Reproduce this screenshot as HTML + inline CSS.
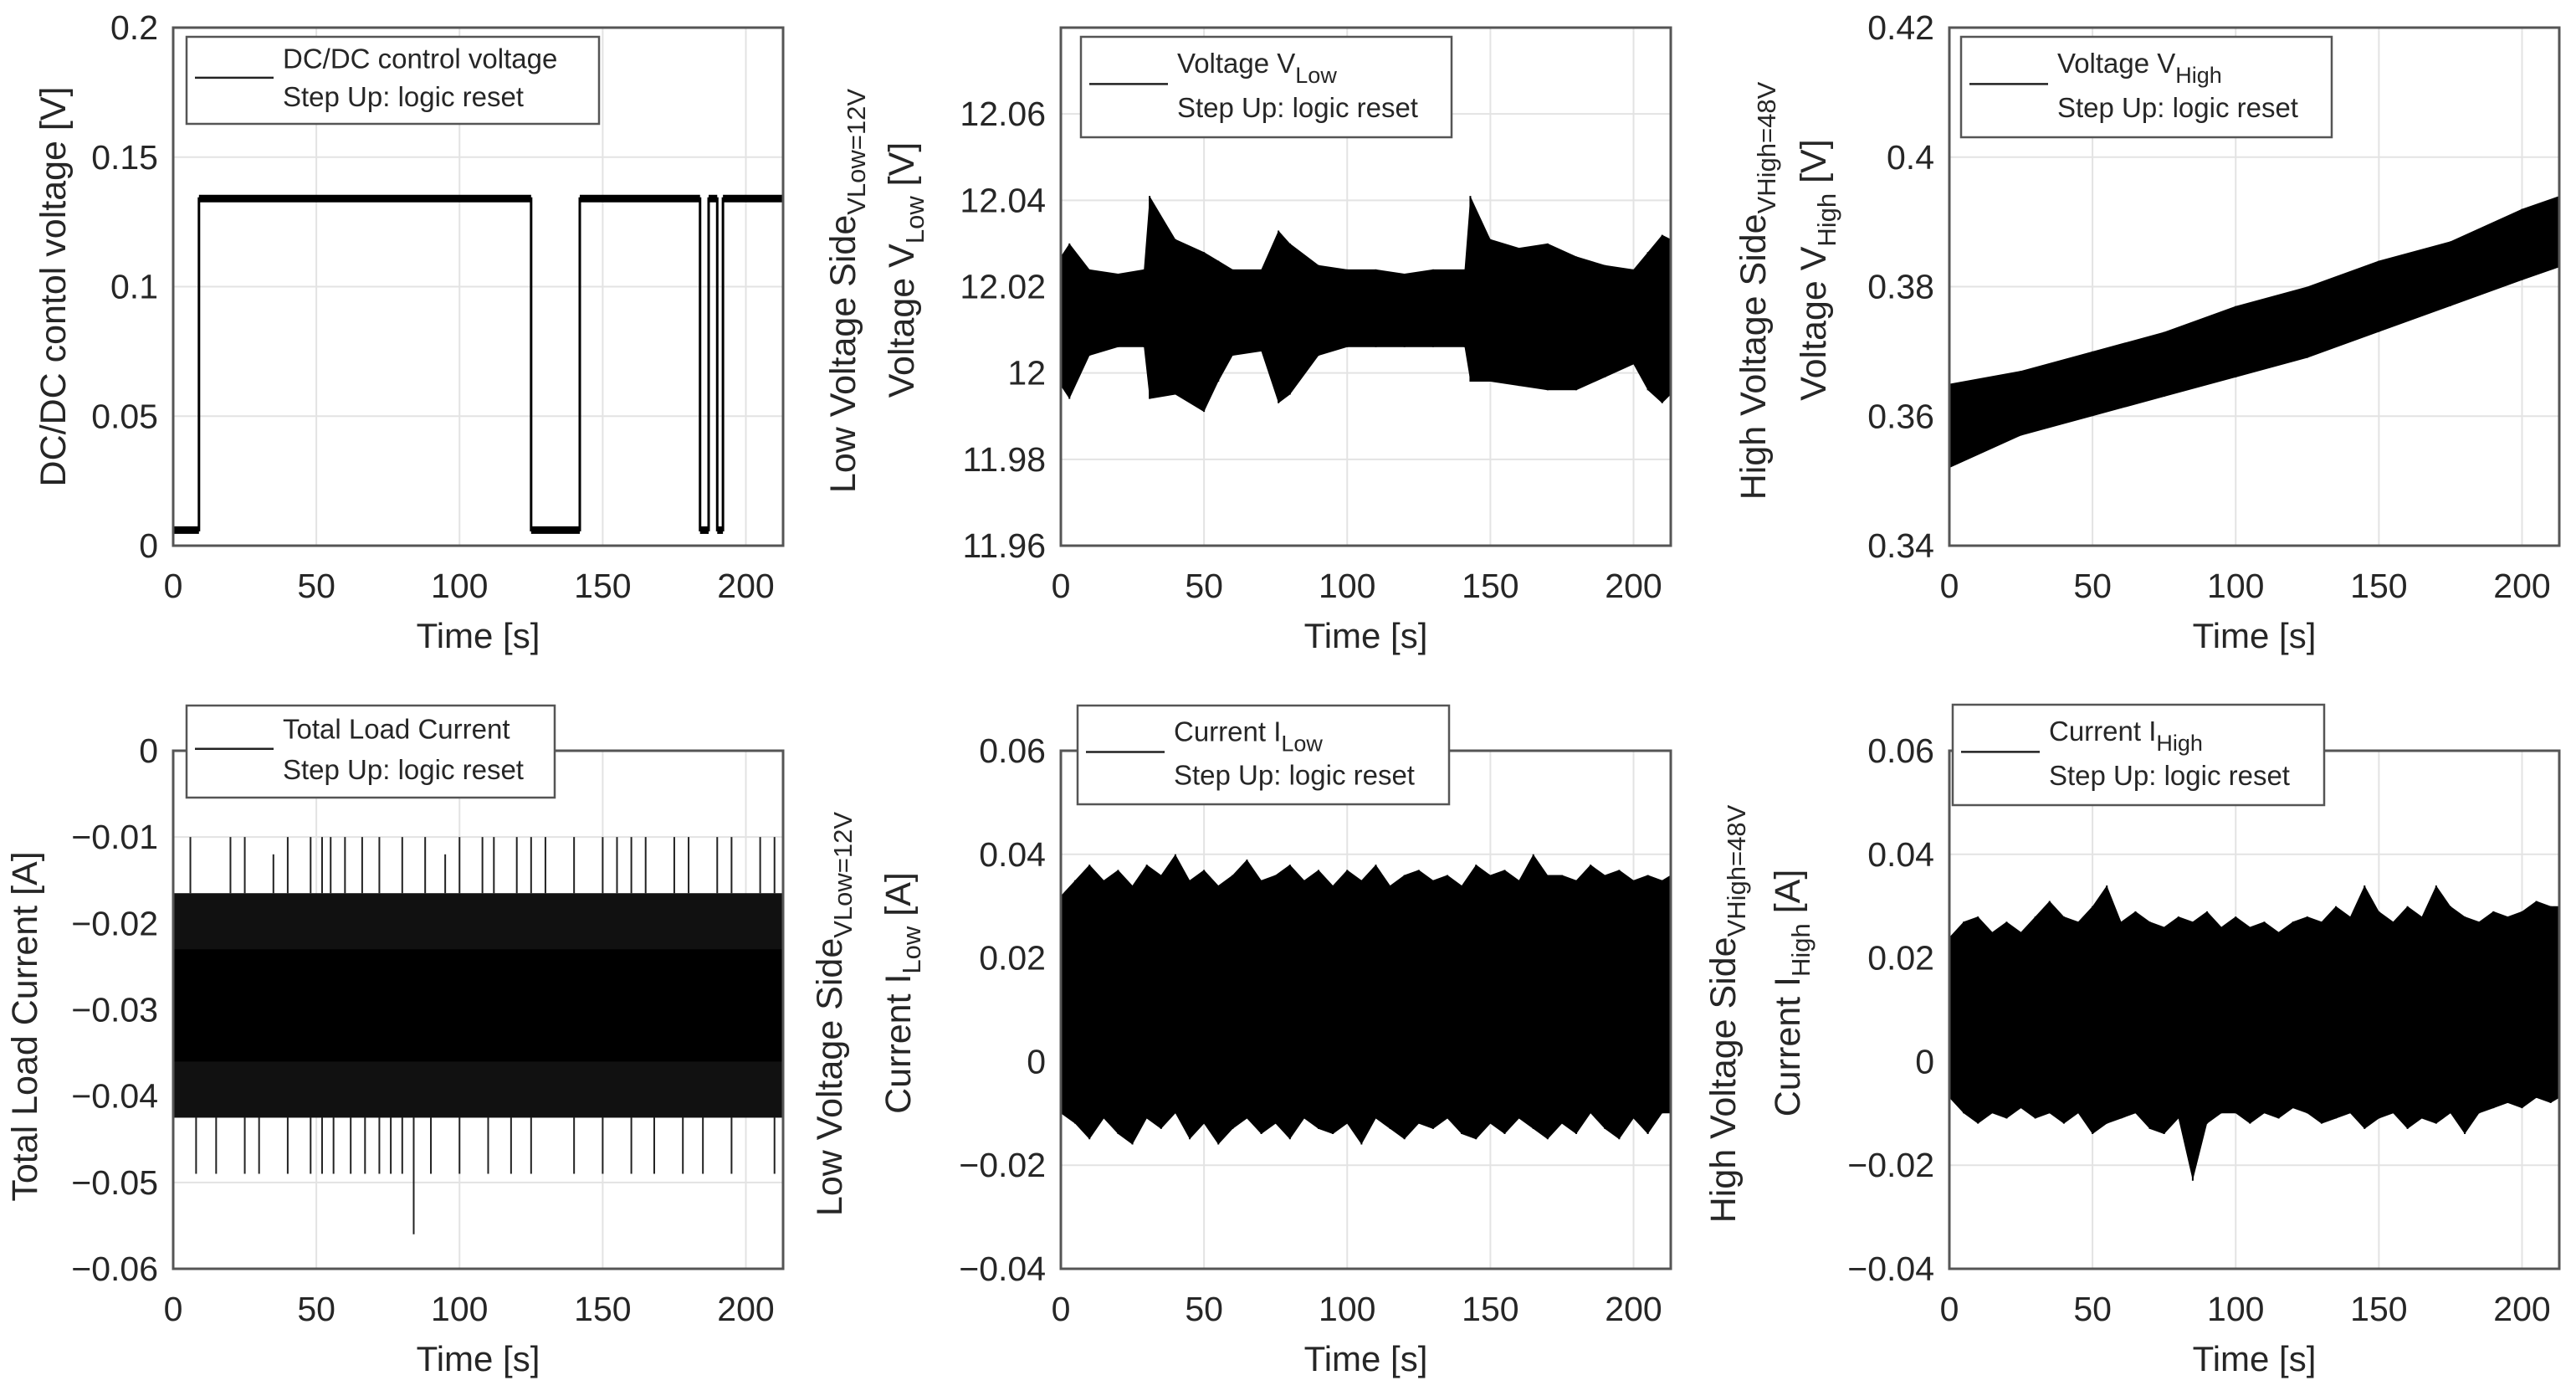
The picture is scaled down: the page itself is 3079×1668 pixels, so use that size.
<!DOCTYPE html>
<html><head><meta charset="utf-8">
<style>
html,body{margin:0;padding:0;background:#fff;}
svg{display:block;font-family:"Liberation Sans",Arial,sans-serif;}
</style></head>
<body>
<svg id="fig" width="3079" height="1668" viewBox="0 0 3079 1668" xmlns="http://www.w3.org/2000/svg"></svg>
<script>
// ===== Data arrays =====
const timeTicks = [0,50,100,150,200];
// Panel 1: DC/DC control voltage (step)
const p1Times  = [0,9,9,125,125,142,142,184,184,187,187,190,190,192,192,213];
const p1Values = [0.006,0.006,0.134,0.134,0.006,0.006,0.134,0.134,0.006,0.006,0.134,0.134,0.006,0.006,0.134,0.134];
const p1Ticks = [0,0.05,0.1,0.15,0.2];
const p1TickLabels = ["0","0.05","0.1","0.15","0.2"];
// Panel 2: Voltage VLow envelope
const p2Times = [0,3,10,20,29,31,40,50,55,60,70,76,80,90,100,110,120,130,141,143,150,160,170,180,190,200,205,210,213];
const p2Upper = [12.027,12.030,12.024,12.023,12.024,12.041,12.031,12.028,12.026,12.024,12.024,12.033,12.030,12.025,12.024,12.024,12.023,12.024,12.024,12.041,12.031,12.029,12.030,12.027,12.025,12.024,12.028,12.032,12.031];
const p2Lower = [11.997,11.994,12.004,12.006,12.006,11.994,11.995,11.991,11.998,12.004,12.005,11.993,11.995,12.004,12.006,12.006,12.006,12.006,12.006,11.998,11.998,11.997,11.996,11.996,11.999,12.002,11.996,11.993,11.995];
const p2Ticks = [11.96,11.98,12,12.02,12.04,12.06];
const p2TickLabels = ["11.96","11.98","12","12.02","12.04","12.06"];
// Panel 3: Voltage VHigh envelope
const p3Times = [0,25,50,75,100,125,150,175,200,213];
const p3Upper = [0.365,0.367,0.370,0.373,0.377,0.380,0.384,0.387,0.392,0.394];
const p3Lower = [0.352,0.357,0.360,0.363,0.366,0.369,0.373,0.377,0.381,0.383];
const p3Ticks = [0.34,0.36,0.38,0.4,0.42];
const p3TickLabels = ["0.34","0.36","0.38","0.4","0.42"];
// Panel 4: Total load current
const p4Band = [-0.0425,-0.0165];
const p4Core = [-0.036,-0.023];
const p4SpikeUpTimes = [6,20,25,35,40,48,52,55,60,66,72,80,88,95,100,108,112,120,125,130,140,150,155,160,165,175,180,190,195,205,210];
const p4SpikeUpVals  = [-0.010,-0.010,-0.010,-0.012,-0.010,-0.010,-0.010,-0.010,-0.010,-0.010,-0.010,-0.010,-0.010,-0.012,-0.010,-0.010,-0.010,-0.010,-0.010,-0.010,-0.010,-0.010,-0.010,-0.010,-0.010,-0.010,-0.010,-0.010,-0.010,-0.010,-0.010];
const p4SpikeDnTimes = [8,15,25,30,40,48,52,56,62,67,72,76,80,84,90,100,110,118,125,140,150,160,168,178,185,195,210];
const p4SpikeDnVals  = [-0.049,-0.049,-0.049,-0.049,-0.049,-0.049,-0.049,-0.049,-0.049,-0.049,-0.049,-0.049,-0.049,-0.056,-0.049,-0.049,-0.049,-0.049,-0.049,-0.049,-0.049,-0.049,-0.049,-0.049,-0.049,-0.049,-0.049];
const p4Ticks = [-0.06,-0.05,-0.04,-0.03,-0.02,-0.01,0];
const p4TickLabels = ["\u22120.06","\u22120.05","\u22120.04","\u22120.03","\u22120.02","\u22120.01","0"];
// Panel 5: Current ILow envelope
const p5Times = [0,5,10,15,20,25,30,35,40,45,50,55,60,65,70,75,80,85,90,95,100,105,110,115,120,125,130,135,140,145,150,155,160,165,170,175,180,185,190,195,200,205,210,213];
const p5Upper = [0.032,0.035,0.038,0.035,0.037,0.034,0.038,0.036,0.040,0.035,0.037,0.034,0.036,0.039,0.035,0.036,0.038,0.035,0.037,0.034,0.037,0.035,0.038,0.034,0.036,0.037,0.035,0.036,0.034,0.038,0.036,0.037,0.035,0.040,0.036,0.036,0.035,0.038,0.036,0.037,0.035,0.036,0.035,0.036];
const p5Lower = [-0.010,-0.012,-0.015,-0.011,-0.014,-0.016,-0.011,-0.013,-0.010,-0.015,-0.012,-0.016,-0.013,-0.011,-0.014,-0.012,-0.015,-0.011,-0.013,-0.014,-0.012,-0.016,-0.011,-0.013,-0.015,-0.012,-0.013,-0.011,-0.014,-0.015,-0.012,-0.014,-0.011,-0.013,-0.015,-0.012,-0.014,-0.010,-0.013,-0.015,-0.011,-0.014,-0.010,-0.010];
const p5Ticks = [-0.04,-0.02,0,0.02,0.04,0.06];
const p5TickLabels = ["\u22120.04","\u22120.02","0","0.02","0.04","0.06"];
// Panel 6: Current IHigh envelope
const p6Times = [0,5,10,15,20,25,30,35,40,45,50,55,60,65,70,75,80,85,90,95,100,105,110,115,120,125,130,135,140,145,150,155,160,165,170,175,180,185,190,195,200,205,210,213];
const p6Upper = [0.024,0.027,0.028,0.025,0.027,0.025,0.028,0.031,0.028,0.027,0.030,0.034,0.027,0.029,0.027,0.026,0.028,0.027,0.029,0.026,0.028,0.026,0.027,0.025,0.027,0.028,0.027,0.030,0.028,0.034,0.029,0.027,0.030,0.028,0.034,0.030,0.028,0.027,0.029,0.028,0.029,0.031,0.030,0.030];
const p6Lower = [-0.007,-0.010,-0.012,-0.010,-0.011,-0.009,-0.011,-0.010,-0.012,-0.010,-0.014,-0.012,-0.011,-0.010,-0.013,-0.014,-0.011,-0.023,-0.012,-0.010,-0.010,-0.012,-0.010,-0.011,-0.009,-0.010,-0.012,-0.011,-0.010,-0.013,-0.011,-0.010,-0.013,-0.011,-0.012,-0.010,-0.014,-0.010,-0.009,-0.008,-0.009,-0.007,-0.008,-0.007];
const p6Ticks = [-0.04,-0.02,0,0.02,0.04,0.06];
const p6TickLabels = ["\u22120.04","\u22120.02","0","0.02","0.04","0.06"];

// ===== Rendering =====
const NS = "http://www.w3.org/2000/svg";
const svg = document.getElementById('fig');
function mk(tag, attrs, parent){
  const e = document.createElementNS(NS, tag);
  for (const k in attrs) e.setAttribute(k, attrs[k]);
  (parent||svg).appendChild(e);
  return e;
}
const X0 = 0, X1 = 213;
const TXT = "#262626", AX = "#555", GRID = "#e3e3e3";

function makePanel(name, left, top, w, h, ymin, ymax, ticks, tickLabels){
  const g = mk('g', {});
  
  
  const xs = t => left + (t - X0) / (X1 - X0) * w;
  const ys = v => top + h - (v - ymin) / (ymax - ymin) * h;
  mk('rect', {x:left, y:top, width:w, height:h, fill:'#fff'}, g);
  const grid = mk('g', {}, g);
  
  
  timeTicks.forEach(t => {
    mk('line', {x1:xs(t), x2:xs(t), y1:top, y2:top+h, stroke:GRID, 'stroke-width':2}, grid);
    const lb = mk('text', {x:xs(t), y:top+h+62, 'font-size':41, fill:TXT, 'text-anchor':'middle'}, g);
    lb.textContent = t;
    
    
  });
  ticks.forEach((v,i) => {
    mk('line', {x1:left, x2:left+w, y1:ys(v), y2:ys(v), stroke:GRID, 'stroke-width':2}, grid);
    const lb = mk('text', {x:left-18, y:ys(v)+14, 'font-size':41, fill:TXT, 'text-anchor':'end'}, g);
    lb.textContent = tickLabels[i];
    
    
  });
  const xl = mk('text', {x:left+w/2, y:top+h+122, 'font-size':42, fill:TXT, 'text-anchor':'middle'}, g);
  xl.textContent = 'Time [s]';
  
  
  const plot = mk('g', {}, g);
  
  
  return {g, plot, xs, ys, left, top, w, h};
}
function frame(p){
  const r = mk('rect', {x:p.left, y:p.top, width:p.w, height:p.h, fill:'none', stroke:AX, 'stroke-width':3}, p.g);
  
  
}
function envelope(p, times, up, lo, fill){
  let d = '';
  times.forEach((t,i)=>{ d += (i?'L':'M') + p.xs(t) + ',' + p.ys(up[i]); });
  for (let i = times.length-1; i >= 0; i--) d += 'L' + p.xs(times[i]) + ',' + p.ys(lo[i]);
  const e = mk('path', {d:d+'Z', fill:fill||'#000'}, p.plot);
  
  
  times.forEach((t,i)=>{
    const s1 = mk('line', {x1:p.xs(t), x2:p.xs(t), y1:p.ys(up[i]), y2:p.ys(lo[i]), stroke:'#000', 'stroke-width':2}, p.plot);
    
    
  });
}
function legend(p, x, y, w, h, line1, sub, line2){
  const lg = mk('g', {}, p.g);
  
  
  mk('rect', {x:x, y:y, width:w, height:h, fill:'#fff', stroke:AX, 'stroke-width':2.5}, lg);
  mk('line', {x1:x+10, x2:x+104, y1:y+h*0.47, y2:y+h*0.47, stroke:'#222', 'stroke-width':2.5}, lg);
  const t1 = mk('text', {x:x+115, y:y+h*0.36, 'font-size':33, fill:TXT}, lg);
  t1.textContent = line1;
  
  
  if (sub){
    const ts = mk('tspan', {dy:12, 'font-size':27}, t1);
    ts.textContent = sub;
  }
  const t2 = mk('text', {x:x+115, y:y+h*0.80, 'font-size':33, fill:TXT}, lg);
  t2.textContent = line2;
  
  
}
function ylabel(cx, cy, parts, name){
  const t = mk('text', {transform:`translate(${cx},${cy}) rotate(-90)`, 'font-size':43, fill:TXT, 'text-anchor':'middle'});
  
  
  parts.forEach(pt => {
    const s = mk('tspan', pt.sub ? {'font-size':31, dy:12} : (pt.after ? {dy:-12} : {}), t);
    s.textContent = pt.text;
  });
}

const W = 729, H = 619;
const L = [207, 1268, 2330], T = [33, 897];

// Panel 1
{
  const p = makePanel('panel-dcdc-control-voltage', L[0], T[0], W, H, 0, 0.2, p1Ticks, p1TickLabels);
  let d = '';
  p1Times.forEach((t,i)=>{ d += (i?'L':'M') + p.xs(t) + ',' + p.ys(p1Values[i]); });
  const ln = mk('path', {d:d, fill:'none', stroke:'#000', 'stroke-width':3}, p.plot);
  
  
  for (let i=0;i<p1Times.length-1;i++){
    if (p1Values[i] === p1Values[i+1] && p1Times[i+1] > p1Times[i]){
      const b = mk('line', {x1:p.xs(p1Times[i]), x2:p.xs(p1Times[i+1]), y1:p.ys(p1Values[i]), y2:p.ys(p1Values[i+1]), stroke:'#000', 'stroke-width':9}, p.plot);
      
      
    }
  }
  frame(p);
  legend(p, 223, 44, 493, 104, 'DC/DC control voltage', null, 'Step Up: logic reset');
  ylabel(78, T[0]+H/2, [{text:'DC/DC contol voltage [V]'}], 'y-axis-title');
}
// Panel 2
{
  const p = makePanel('panel-voltage-vlow', L[1], T[0], W, H, 11.96, 12.08, p2Ticks, p2TickLabels);
  envelope(p, p2Times, p2Upper, p2Lower);
  frame(p);
  legend(p, 1292, 44, 443, 120, 'Voltage V', 'Low', 'Step Up: logic reset');
  ylabel(1022, T[0]+H/2+5, [{text:'Low Voltage Side'},{text:'VLow=12V',sub:true}], 'y-axis-title-side');
  ylabel(1092, T[0]+H/2-20, [{text:'Voltage V'},{text:'Low',sub:true},{text:' [V]',after:true}], 'y-axis-title');
}
// Panel 3
{
  const p = makePanel('panel-voltage-vhigh', L[2], T[0], W, H, 0.34, 0.42, p3Ticks, p3TickLabels);
  envelope(p, p3Times, p3Upper, p3Lower);
  frame(p);
  legend(p, 2344, 44, 443, 120, 'Voltage V', 'High', 'Step Up: logic reset');
  ylabel(2110, T[0]+H/2+5, [{text:'High Voltage Side'},{text:'VHigh=48V',sub:true}], 'y-axis-title-side');
  ylabel(2182, T[0]+H/2-20, [{text:'Voltage V'},{text:'High',sub:true},{text:' [V]',after:true}], 'y-axis-title');
}
// Panel 4
{
  const p = makePanel('panel-total-load-current', L[0], T[1], W, H, -0.06, 0, p4Ticks, p4TickLabels);
  const b = mk('rect', {x:p.xs(X0), y:p.ys(p4Band[1]), width:p.xs(X1)-p.xs(X0), height:p.ys(p4Band[0])-p.ys(p4Band[1]), fill:'#111'}, p.plot);
  
  
  const c = mk('rect', {x:p.xs(X0), y:p.ys(p4Core[1]), width:p.xs(X1)-p.xs(X0), height:p.ys(p4Core[0])-p.ys(p4Core[1]), fill:'#000'}, p.plot);
  
  
  p4SpikeUpTimes.forEach((t,i)=>{
    const s = mk('line', {x1:p.xs(t), x2:p.xs(t), y1:p.ys(p4SpikeUpVals[i]), y2:p.ys(p4Band[1]), stroke:'#222', 'stroke-width':2}, p.plot);
    
    
  });
  p4SpikeDnTimes.forEach((t,i)=>{
    const s = mk('line', {x1:p.xs(t), x2:p.xs(t), y1:p.ys(p4Band[0]), y2:p.ys(p4SpikeDnVals[i]), stroke:'#222', 'stroke-width':2}, p.plot);
    
    
  });
  frame(p);
  legend(p, 223, 843, 440, 110, 'Total Load Current', null, 'Step Up: logic reset');
  ylabel(44, T[1]+H/2+20, [{text:'Total Load Current [A]'}], 'y-axis-title');
}
// Panel 5
{
  const p = makePanel('panel-current-ilow', L[1], T[1], W, H, -0.04, 0.06, p5Ticks, p5TickLabels);
  envelope(p, p5Times, p5Upper, p5Lower);
  frame(p);
  legend(p, 1288, 843, 444, 118, 'Current I', 'Low', 'Step Up: logic reset');
  ylabel(1006, T[1]+H/2+5, [{text:'Low Voltage Side'},{text:'VLow=12V',sub:true}], 'y-axis-title-side');
  ylabel(1088, T[1]+H/2-20, [{text:'Current I'},{text:'Low',sub:true},{text:' [A]',after:true}], 'y-axis-title');
}
// Panel 6
{
  const p = makePanel('panel-current-ihigh', L[2], T[1], W, H, -0.04, 0.06, p6Ticks, p6TickLabels);
  envelope(p, p6Times, p6Upper, p6Lower);
  frame(p);
  legend(p, 2334, 842, 444, 120, 'Current I', 'High', 'Step Up: logic reset');
  ylabel(2074, T[1]+H/2+5, [{text:'High Voltage Side'},{text:'VHigh=48V',sub:true}], 'y-axis-title-side');
  ylabel(2151, T[1]+H/2-20, [{text:'Current I'},{text:'High',sub:true},{text:' [A]',after:true}], 'y-axis-title');
}
</script>
</body></html>
